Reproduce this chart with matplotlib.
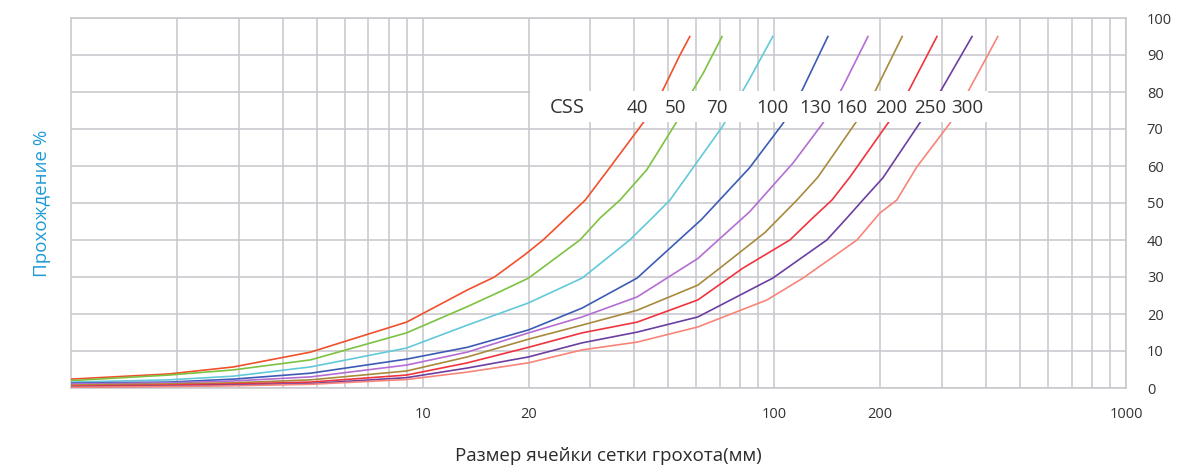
import numpy as np
import matplotlib
matplotlib.use("Agg")
import matplotlib.pyplot as plt
from matplotlib.patches import Rectangle
from matplotlib.ticker import FixedLocator, NullFormatter, LogLocator

# crusher CSS settings and their passing curves (size mm -> passing %)
css = ["40", "50", "70", "100", "130", "160", "200", "250", "300"]

size_40 = [1, 1.9, 2.9, 4.8, 9, 13.4, 16, 19.5, 22, 29, 34, 42.3, 47.9, 53.9, 57.5]
pass_40 = [2.4, 3.8, 5.7, 9.7, 17.8, 26.5, 30, 36, 40, 50.8, 59.5, 71.6, 80, 90, 95]

size_50 = [1, 1.9, 2.9, 4.8, 9, 13.4, 16.3, 20, 28, 32, 36.4, 43.4, 52.5, 58.7, 62.7, 71]
pass_50 = [2, 3.5, 4.9, 7.6, 14.9, 22, 25.7, 29.7, 40, 46, 50.8, 59, 71.6, 80.5, 85, 95]

size_70 = [1, 1.9, 2.9, 4.8, 9, 13.4, 20, 28.4, 38.8, 45, 50.5, 58.7, 71, 85, 99]
pass_70 = [1.6, 2.2, 3.2, 5.7, 10.8, 17, 23, 29.7, 40, 46, 50.8, 59.5, 70.5, 83.5, 95]

size_100 = [1, 1.9, 2.9, 4.8, 9, 13.4, 20, 28.4, 40.7, 62, 85, 106, 120, 142]
pass_100 = [1.3, 1.6, 2.4, 4, 7.8, 11, 15.7, 21.6, 29.7, 45.5, 59.5, 71.6, 80.5, 95]

size_130 = [1, 1.9, 2.9, 4.8, 9, 13.4, 20, 28.4, 40.7, 60.6, 85, 113, 137.5, 156.6, 184.6]
pass_130 = [1.1, 1.4, 1.9, 3, 6.2, 9.7, 14.9, 19.2, 24.6, 35, 47.6, 60.8, 71.6, 81.4, 95]

size_160 = [1, 1.9, 2.9, 4.8, 9, 13.4, 20, 28.4, 40.7, 60.6, 70, 94, 116, 133, 170, 193, 231]
pass_160 = [0.8, 1.1, 1.4, 2.2, 4.6, 8.4, 13.2, 17, 21, 27.8, 32.4, 42, 50.8, 57, 71.6, 80, 95]

size_200 = [1, 1.9, 2.9, 4.8, 9, 13.4, 20, 28.4, 40.7, 60.6, 81.4, 110.7, 128.7, 145.8, 164, 210.5, 240, 290]
pass_200 = [0.5, 0.8, 1.1, 1.6, 3.5, 6.8, 11, 14.9, 17.8, 23.8, 32.4, 40, 46, 50.8, 57, 71.6, 80, 95]

size_250 = [1, 1.9, 2.9, 4.8, 9, 13.4, 20, 28.4, 40.7, 60.6, 99, 141, 161, 178.5, 203.6, 259, 296, 365]
pass_250 = [0.3, 0.5, 0.8, 1.2, 2.8, 5.4, 8.4, 12.2, 15.1, 19.2, 29.7, 40, 46, 50.8, 56.8, 71.6, 80, 95]

size_300 = [1, 1.9, 2.9, 4.8, 9, 13.4, 20, 28.4, 40.7, 60.6, 95.3, 120.6, 171.8, 199.6, 223, 254, 316, 355, 432]
pass_300 = [0.2, 0.4, 0.6, 1.0, 2.3, 4.3, 6.8, 10.3, 12.4, 16.5, 23.8, 29.7, 40, 47.3, 50.8, 59.7, 71.6, 80, 95]

x_ticks = [10, 20, 100, 200, 1000]
y_ticks = [0, 10, 20, 30, 40, 50, 60, 70, 80, 90, 100]

sizes = [size_40, size_50, size_70, size_100, size_130, size_160, size_200, size_250, size_300]
passes = [pass_40, pass_50, pass_70, pass_100, pass_130, pass_160, pass_200, pass_250, pass_300]
colors = ["#f0502a", "#7cc242", "#62c9d9", "#3c5bb5", "#b46dd2",
          "#a88a3c", "#f0343e", "#6b3fa0", "#f7857a"]

# where the CSS captions sit (layout only)
label_x = [40.9, 52.2, 68.7, 98.5, 130.5, 166, 214.5, 277, 353]
label_y = 75.7

plt.rcParams['font.family'] = ['Open Sans', 'DejaVu Sans']

fig = plt.figure(figsize=(11.9, 4.72), dpi=100)
ax = fig.add_axes([71 / 1190, 1 - 388 / 472, (1126 - 71) / 1190, (388 - 18) / 472])

ax.set_xscale("log")
ax.set_xlim(1, 1000)
ax.set_ylim(0, 100)

for xs, ys, c in zip(sizes, passes, colors):
    ax.plot(xs, ys, color=c, lw=1.2, zorder=3)

# white strip behind the CSS captions
ax.add_patch(Rectangle((20.2, 71.8), 405 - 20.2, 80.4 - 71.8,
                       facecolor="white", edgecolor="none", zorder=4))
ax.text(25.7, label_y, "CSS", ha="center", va="center", fontsize=14.5, color="#333333", zorder=5)
for lab, lx in zip(css, label_x):
    ax.text(lx, label_y, lab, ha="center", va="center", fontsize=13.5, color="#333333", zorder=5)

# grid
ax.xaxis.set_major_locator(FixedLocator(x_ticks))
ax.xaxis.set_major_formatter(plt.FixedFormatter([str(t) for t in x_ticks]))
ax.xaxis.set_minor_locator(LogLocator(base=10, subs=np.arange(2, 10)))
ax.xaxis.set_minor_formatter(NullFormatter())
ax.set_yticks(y_ticks)
ax.grid(True, which="both", axis="x", color="#c6c6cc", lw=1.1, zorder=0)
ax.grid(True, which="major", axis="y", color="#c6c6cc", lw=1.1, zorder=0)
ax.set_axisbelow(True)

for s in ax.spines.values():
    s.set_color("#c6c6cc")
    s.set_linewidth(1.1)

ax.yaxis.tick_right()
ax.tick_params(axis="y", which="both", length=0, pad=15, labelsize=10.5, colors="#333333")
ax.tick_params(axis="x", which="both", length=0, pad=14, labelsize=10.5, colors="#333333")

fig.text(608 / 1190, 1 - 456 / 472, "Размер ячейки сетки грохота(мм)",
         ha="center", va="center", fontsize=13.5, color="#2b2b2b")
fig.text(42 / 1190, 1 - 203 / 472, "Прохождение %", rotation=90,
         ha="center", va="center", fontsize=13.5, color="#1e9ad6")

fig.savefig("out.png", dpi=100)
